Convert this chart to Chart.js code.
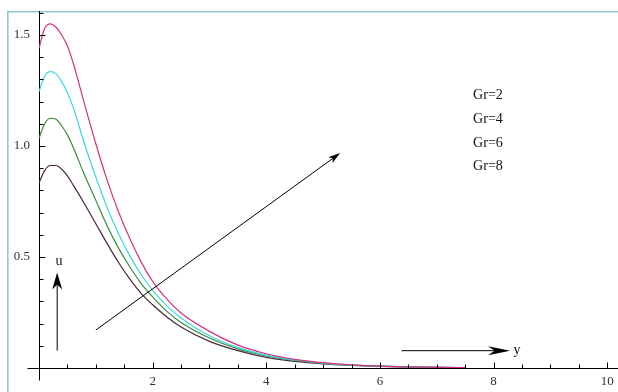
<!DOCTYPE html>
<html><head><meta charset="utf-8">
<script src="https://cdn.jsdelivr.net/npm/chart.js@4.4.0/dist/chart.umd.min.js"></script>
<style>html,body{margin:0;padding:0;background:#fff;}#wrap{width:618px;height:392px;}</style>
</head><body><div id="wrap"><canvas id="c" width="618" height="392"></canvas></div>
<script>
// ---- data ----
const yPositions = [0,0.1,0.2,0.3,0.4,0.5,0.6,0.8,1.0,1.2,1.4,1.6,1.8,2.0,2.25,2.5,3.0,3.5,4.0,4.5,5.0,5.5,6.0,6.5,7.0,7.5];
const uGr2 = [0.833,0.89,0.912,0.912,0.895,0.865,0.825,0.74,0.65,0.56,0.475,0.40,0.335,0.285,0.23,0.185,0.12,0.078,0.048,0.030,0.019,0.012,0.007,0.004,0.003,0.002];
const uGr4 = [1.035,1.10,1.125,1.12,1.09,1.05,0.995,0.87,0.755,0.64,0.54,0.455,0.38,0.32,0.255,0.205,0.135,0.086,0.055,0.034,0.021,0.013,0.008,0.005,0.003,0.002];
const uGr6 = [1.245,1.315,1.335,1.325,1.29,1.24,1.175,1.01,0.86,0.722,0.605,0.505,0.42,0.35,0.28,0.225,0.145,0.092,0.058,0.036,0.022,0.013,0.008,0.005,0.003,0.002];
const uGr8 = [1.44,1.53,1.55,1.535,1.50,1.45,1.375,1.19,1.01,0.845,0.703,0.582,0.477,0.39,0.31,0.248,0.165,0.103,0.064,0.039,0.024,0.014,0.008,0.005,0.003,0.002];
const seriesLabels = ['Gr=2','Gr=4','Gr=6','Gr=8'];
const xTickLabels = [2,4,6,8,10];
const yTickLabels = [0.5,1.0,1.5];
const xMinorTicks = [0.5,1,1.5,2,2.5,3,3.5,4,4.5,5,5.5,6,6.5,7,7.5,8,8.5,9,9.5,10];
const yMinorTicks = [0.1,0.2,0.3,0.4,0.5,0.6,0.7,0.8,0.9,1.0,1.1,1.2,1.3,1.4,1.5,1.6];
const axisLabelX = 'y';
const axisLabelY = 'u';

const seriesColors = ['#4a2838','#3c8c3c','#3ad8e2','#d8307e'];
const seriesData = [uGr2,uGr4,uGr6,uGr8];

const SERIF = "'Liberation Serif','Times New Roman',serif";

function drawArrow(ctx, x1, y1, x2, y2, len, hw, notch) {
  const ang = Math.atan2(y2 - y1, x2 - x1);
  const c = Math.cos(ang), s = Math.sin(ang);
  ctx.beginPath();
  ctx.moveTo(x1, y1);
  ctx.lineTo(x2 - c * len * 0.6, y2 - s * len * 0.6);
  ctx.stroke();
  ctx.beginPath();
  ctx.moveTo(x2, y2);
  ctx.lineTo(x2 - c * len - s * hw, y2 - s * len + c * hw);
  ctx.lineTo(x2 - c * len * notch, y2 - s * len * notch);
  ctx.lineTo(x2 - c * len + s * hw, y2 - s * len - c * hw);
  ctx.closePath();
  ctx.fill();
}

const decor = {
  id: 'decor',
  beforeDraw(chart) {
    const ctx = chart.ctx;
    ctx.save();
    ctx.fillStyle = '#fff';
    ctx.fillRect(0, 0, chart.width, chart.height);
    ctx.strokeStyle = '#8cc8ce';
    ctx.lineWidth = 1.6;
    ctx.beginPath();
    ctx.moveTo(7.8, 392); ctx.lineTo(7.8, 11.8); ctx.lineTo(618, 11.8);
    ctx.stroke();
    ctx.restore();
  },
  afterDatasetsDraw(chart) {
    const { ctx, scales: { x, y } } = chart;
    ctx.save();
    ctx.strokeStyle = '#000';
    ctx.fillStyle = '#000';
    ctx.lineWidth = 1;
    const x0 = Math.round(x.getPixelForValue(0)) + 0.5;
    const y0 = Math.round(y.getPixelForValue(0)) + 0.5;
    // axis extensions
    ctx.beginPath();
    ctx.moveTo(x0 - 12, y0); ctx.lineTo(x0, y0);
    ctx.moveTo(x0, y0); ctx.lineTo(x0, y0 + 12);
    ctx.stroke();
    // inward tick marks
    ctx.beginPath();
    yMinorTicks.forEach(v => {
      const py = Math.round(y.getPixelForValue(v)) + 0.5;
      const major = yTickLabels.some(t => Math.abs(t - v) < 1e-6);
      ctx.moveTo(x0, py); ctx.lineTo(x0 + (major ? 6 : 4), py);
    });
    xMinorTicks.forEach(v => {
      const px = Math.round(x.getPixelForValue(v)) + 0.5;
      const major = xTickLabels.some(t => Math.abs(t - v) < 1e-6);
      ctx.moveTo(px, y0); ctx.lineTo(px, y0 - (major ? 6 : 4));
    });
    ctx.stroke();
    // arrows
    drawArrow(ctx, x.getPixelForValue(1.0), y.getPixelForValue(0.171), x.getPixelForValue(5.3), y.getPixelForValue(0.968), 12, 3.5, 0.75);
    drawArrow(ctx, x.getPixelForValue(0.32), y.getPixelForValue(0.078), x.getPixelForValue(0.32), y.getPixelForValue(0.43), 17, 5, 0.7);
    drawArrow(ctx, x.getPixelForValue(6.38), y.getPixelForValue(0.078), x.getPixelForValue(8.29), y.getPixelForValue(0.078), 22, 4.5, 0.7);
    // texts
    ctx.font = '14px ' + SERIF;
    ctx.fillStyle = '#111';
    ctx.textBaseline = 'alphabetic';
    ctx.textAlign = 'center';
    ctx.fillText(axisLabelY, x.getPixelForValue(0.35), y.getPixelForValue(0.464));
    ctx.textAlign = 'left';
    ctx.fillText(axisLabelX, x.getPixelForValue(8.35), y.getPixelForValue(0.063));
    ctx.textBaseline = 'middle';
    const lys = [95, 119, 143, 166];
    seriesLabels.forEach((t, i) => {
      ctx.fillText(t, x.getPixelForValue(7.64), lys[i]);
    });
    ctx.restore();
  }
};

const datasets = seriesData.map((arr, i) => ({
  label: seriesLabels[i],
  data: yPositions.map((p, k) => ({ x: p, y: arr[k] })),
  borderColor: seriesColors[i],
  backgroundColor: seriesColors[i],
  borderWidth: 1.2,
  pointRadius: 0,
  showLine: true,
  cubicInterpolationMode: 'monotone',
  fill: false,
  order: 4 - i
}));

new Chart(document.getElementById('c'), {
  type: 'scatter',
  data: { datasets },
  options: {
    responsive: false,
    animation: false,
    layout: { padding: { left: 7, top: 11, right: 0, bottom: 0 } },
    plugins: { legend: { display: false }, tooltip: { enabled: false } },
    scales: {
      x: {
        type: 'linear', min: 0, max: 10.19,
        afterBuildTicks: s => { s.ticks = xTickLabels.map(v => ({ value: v })); },
        afterFit: s => { s.height = 24; s.paddingLeft = 0; s.paddingRight = 0; },
        grid: { display: false, drawTicks: false },
        border: { display: true, color: '#000', width: 1 },
        ticks: { autoSkip: false, maxRotation: 0, padding: 6, color: '#333',
                 font: { family: SERIF, size: 13 }, callback: v => String(v) }
      },
      y: {
        type: 'linear', min: 0, max: 1.608,
        afterBuildTicks: s => { s.ticks = yTickLabels.map(v => ({ value: v })); },
        afterFit: s => { s.width = 32; s.paddingTop = 0; s.paddingBottom = 0; },
        grid: { display: false, drawTicks: false },
        border: { display: true, color: '#000', width: 1 },
        ticks: { autoSkip: false, padding: 9, color: '#333',
                 font: { family: SERIF, size: 13 }, callback: v => Number(v).toFixed(1) }
      }
    }
  },
  plugins: [decor]
});
</script>
</body></html>
